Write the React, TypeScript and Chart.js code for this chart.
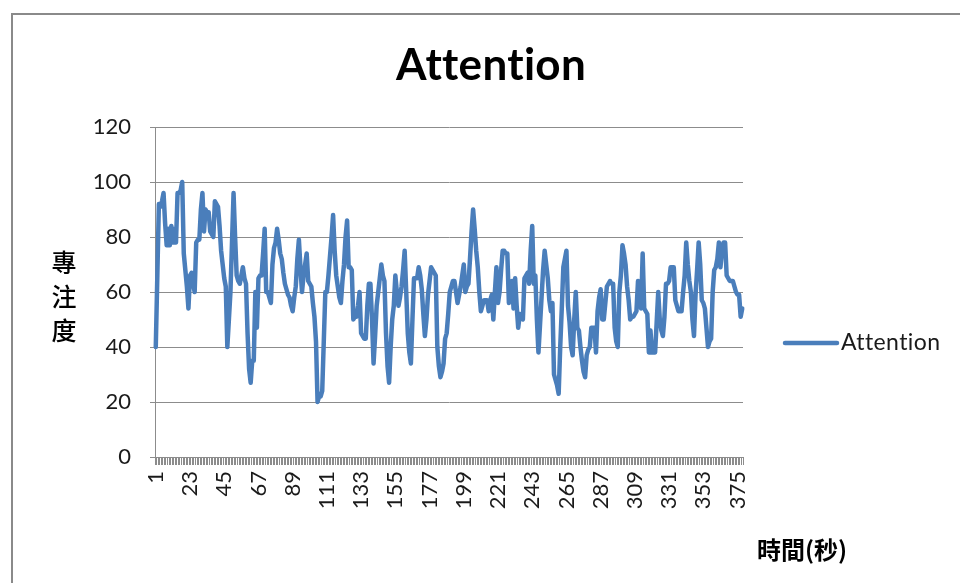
import React, { useEffect, useRef } from "react";
import { Chart, registerables } from "chart.js";

Chart.register(...registerables);

const CHART_TITLE = "Attention";
const SERIES_NAME = "Attention";
const Y_TITLE_CHARS = ["專", "注", "度"];
const X_TITLE = "時間(秒)";

const CATEGORY_COUNT = 378;
const categories: string[] = Array.from({ length: CATEGORY_COUNT }, (_, i) => String(i + 1));
const LABEL_EVERY = 22;

const yTicks = { min: 0, max: 120, step: 20 };

const attention: number[] = [
  40, 66, 92, 91, 93, 96, 85, 77, 83, 77, 84, 78, 83, 78, 96, 96, 97, 100, 74, 68,
  62, 54, 66, 67, 63, 60, 78, 79, 79, 90, 96, 82, 90, 89, 89, 82, 81, 80, 93, 92,
  91, 84, 75, 70, 65, 62, 40, 50, 60, 78, 96, 80, 66, 64, 63, 66, 69, 65, 63, 45,
  32, 27, 35, 35, 60, 47, 65, 66, 66, 74, 83, 60, 60, 58, 56, 70, 76, 78, 83, 79,
  74, 72, 67, 63, 61, 59, 58, 55, 53, 58, 62, 72, 79, 69, 60, 66, 70, 74, 64, 63,
  62, 56, 51, 42, 20, 22, 22, 24, 42, 60, 60, 66, 73, 80, 88, 75, 66, 62, 58, 56,
  64, 70, 80, 86, 69, 69, 68, 50, 51, 51, 55, 60, 45, 44, 43, 43, 55, 63, 63, 50,
  34, 44, 55, 60, 65, 70, 66, 64, 45, 33, 27, 40, 50, 55, 66, 60, 55, 58, 62, 68,
  75, 60, 45, 38, 34, 50, 65, 65, 65, 69, 66, 61, 52, 44, 50, 59, 64, 69, 68, 67,
  66, 40, 33, 29, 31, 34, 43, 45, 52, 60, 62, 64, 64, 60, 56, 59, 62, 66, 70, 60,
  62, 63, 72, 82, 90, 83, 75, 69, 60, 53, 55, 57, 57, 57, 53, 57, 59, 50, 60, 69,
  56, 60, 68, 75, 75, 74, 74, 56, 60, 64, 54, 65, 55, 47, 52, 51, 50, 65, 66, 67,
  63, 75, 84, 63, 66, 50, 38, 48, 58, 68, 75, 70, 65, 57, 53, 56, 30, 28, 26, 23,
  40, 54, 69, 72, 75, 55, 49, 40, 37, 50, 60, 47, 46, 40, 35, 31, 29, 37, 39, 40,
  47, 47, 47, 38, 53, 58, 61, 50, 50, 56, 62, 63, 64, 63, 63, 47, 42, 40, 60, 66,
  77, 74, 70, 62, 57, 50, 51, 51, 52, 53, 64, 63, 54, 74, 54, 53, 52, 38, 46, 38,
  38, 38, 49, 60, 50, 46, 44, 51, 63, 63, 64, 69, 69, 69, 57, 55, 53, 53, 53, 60,
  66, 78, 70, 64, 60, 50, 44, 59, 68, 78, 70, 57, 56, 54, 47, 40, 42, 43, 60, 68,
  69, 72, 78, 69, 75, 78, 78, 66, 65, 64, 64, 64, 62, 60, 59, 59, 51, 54,
];

const LINE_COLOR = "#4a7ebb";
const GRID_COLOR = "#8c8c8c";
const TEXT_COLOR = "#1a1a1a";
const LATIN = "Lato, 'Open Sans', sans-serif";
const CJK = "'Noto Sans CJK TC', 'Noto Sans CJK SC', sans-serif";

const decorPlugin = {
  id: "decor",
  afterDraw(chart: any) {
    const ctx = chart.ctx as any;
    ctx.save();
    // Title (small letter spacing disables the "tt" ligature)
    ctx.letterSpacing = "0.3px";
    ctx.fillStyle = "#000";
    ctx.font = `bold 44px ${LATIN}`;
    ctx.textAlign = "center";
    ctx.textBaseline = "middle";
    ctx.fillText(CHART_TITLE, 491, 66);

    // Legend
    const ly = 343;
    ctx.strokeStyle = LINE_COLOR;
    ctx.lineWidth = 4.5;
    ctx.lineCap = "round";
    ctx.beginPath();
    ctx.moveTo(785, ly);
    ctx.lineTo(837, ly);
    ctx.stroke();
    ctx.fillStyle = TEXT_COLOR;
    ctx.font = `23px ${LATIN}`;
    ctx.letterSpacing = "0.4px";
    ctx.textAlign = "left";
    ctx.fillText(SERIES_NAME, 841, ly);
    ctx.letterSpacing = "0px";

    // Y title stacked
    ctx.fillStyle = "#000";
    ctx.font = `500 25px ${CJK}`;
    ctx.textAlign = "center";
    Y_TITLE_CHARS.forEach((ch, i) => {
      ctx.fillText(ch, 64, 262 + i * 34);
    });

    // X title
    ctx.font = `bold 24px ${CJK}`;
    ctx.textAlign = "center";
    ctx.fillText(X_TITLE, 802, 550);
    ctx.restore();
  },
};

export default function App() {
  const ref = useRef<HTMLCanvasElement | null>(null);
  useEffect(() => {
    if (!ref.current) return;
    const chart = new Chart(ref.current, {
      type: "line",
      data: {
        labels: categories,
        datasets: [
          {
            label: SERIES_NAME,
            data: attention,
            borderColor: LINE_COLOR,
            backgroundColor: LINE_COLOR,
            borderWidth: 4.5,
            pointRadius: 0,
            tension: 0,
            borderJoinStyle: "round",
            borderCapStyle: "round",
          },
        ],
      },
      options: {
        responsive: false,
        animation: false,
        layout: { padding: { top: 127, left: 0, right: 217, bottom: 0 } },
        plugins: {
          legend: { display: false },
          title: { display: false },
          tooltip: { enabled: false },
        },
        scales: {
          x: {
            type: "category",
            offset: true,
            grid: {
              offset: true,
              drawOnChartArea: false,
              drawTicks: true,
              tickLength: 8,
              color: GRID_COLOR,
              lineWidth: 1,
            },
            border: { display: true, color: GRID_COLOR, width: 1 },
            ticks: {
              autoSkip: false,
              maxRotation: 90,
              minRotation: 90,
              padding: 6,
              color: TEXT_COLOR,
              font: { family: LATIN, size: 22 },
              callback: (_v: any, index: number) =>
                index % LABEL_EVERY === 0 ? categories[index] : "",
            },
            afterFit: (s: any) => {
              s.height = 126;
            },
          },
          y: {
            min: yTicks.min,
            max: yTicks.max,
            grid: {
              color: GRID_COLOR,
              lineWidth: 1,
              tickLength: 5,
              drawTicks: true,
            },
            border: { display: true, color: GRID_COLOR, width: 1 },
            ticks: {
              stepSize: yTicks.step,
              padding: 19,
              color: TEXT_COLOR,
              font: { family: LATIN, size: 22 },
            },
            afterFit: (s: any) => {
              s.width = 155;
            },
          },
        },
      },
      plugins: [decorPlugin],
    } as any);
    return () => chart.destroy();
  }, []);

  return (
    <div style={{ position: "fixed", left: 0, top: 0, width: 960, height: 583, background: "#fff" }}>
      <div
        style={{
          position: "absolute",
          left: 11,
          top: 13,
          width: 960,
          height: 583,
          borderLeft: "2px solid #8a8a8a",
          borderTop: "2px solid #8a8a8a",
        }}
      />
      <canvas ref={ref} width={960} height={583} style={{ position: "absolute", left: 0, top: 0, display: "block" }} />
    </div>
  );
}
